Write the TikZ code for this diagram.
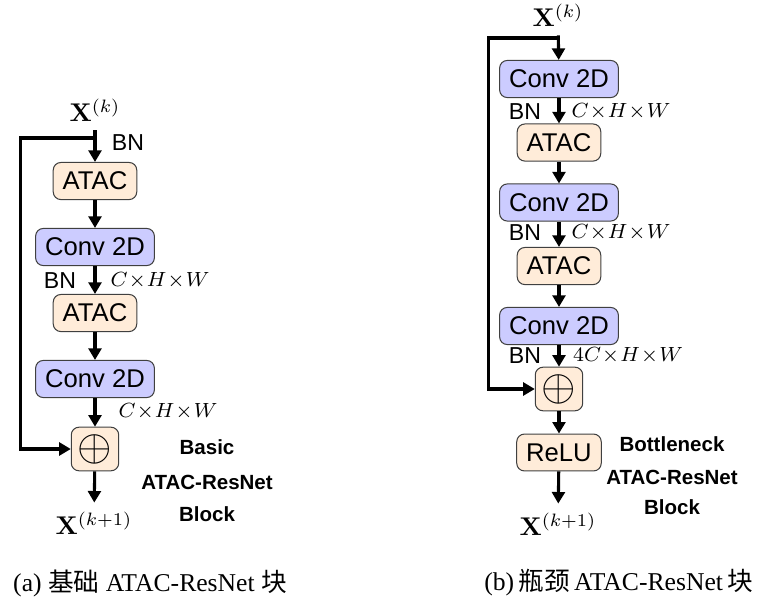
\documentclass[tikz,border=0pt]{standalone}
\usepackage[no-math]{fontspec}
\setmainfont{Liberation Serif}
\setsansfont{Liberation Sans}
\newfontfamily\cjk{Noto Sans CJK SC}
\usepackage{xcolor}
\usetikzlibrary{arrows.meta, positioning, calc}

\begin{document}
\begin{tikzpicture}[x=0.39pt, y=-0.39pt]
    % Define styles
    \tikzstyle{atacbox} = [rectangle, rounded corners=3pt, draw=black!75, fill=orange!15, inner sep=3.7pt, font=\sffamily]
    \tikzstyle{convbox} = [rectangle, rounded corners=3pt, draw=black!75, fill=blue!20, inner sep=3.7pt, font=\sffamily]
    \tikzstyle{addbox} = [rectangle, rounded corners=3pt, draw=black!75, fill=orange!15, inner sep=0pt, minimum width=18.5pt, minimum height=17pt, font=\LARGE]
    \tikzstyle{dimlabel} = [font=\footnotesize, inner sep=1pt]
    \tikzstyle{bnlabel} = [font=\sffamily\small, inner sep=1pt]
    \tikzstyle{blocklabel} = [font=\sffamily\bfseries\footnotesize, inner sep=1pt]
    \tikzstyle{flow} = [line width=1.2pt, -{Triangle[length=4.5pt, width=5pt]}]

    \useasboundingbox (0,0) rectangle (757,599);

    % (a) Basic block
    \node (lin) at (95,110) {$\mathbf{X}^{(k)}$};
    \node[atacbox] (latac1) at (95,181) {ATAC};
    \node[convbox] (lconv1) at (95,247) {Conv 2D};
    \node[atacbox] (latac2) at (95,313) {ATAC};
    \node[convbox] (lconv2) at (95,379) {Conv 2D};
    \node[addbox] (ladd) at (95,449) {$\oplus$};
    \node (lout) at (94,523) {$\mathbf{X}^{(k+1)}$};

    \node[bnlabel] (lbn1) at (128,143) {BN};
    \node[bnlabel] (lbn2) at (60,281) {BN};
    \node[dimlabel] (ldim1) at (160,281) {$C\!\times\! H\!\times\! W$};
    \node[dimlabel] (ldim2) at (168,412) {$C\!\times\! H\!\times\! W$};

    \node[blocklabel] (lname1) at (207,447) {Basic};
    \node[blocklabel] (lname2) at (207,482) {ATAC-ResNet};
    \node[blocklabel] (lname3) at (207,514) {Block};

    \coordinate (lsplit) at (95,138);
    \coordinate (lbend1) at (20.7,138);
    \coordinate (lbend2) at (20.7,449);

    \draw[flow] (lin) -- (latac1);
    \draw[flow] (latac1) -- (lconv1);
    \draw[flow] (lconv1) -- (latac2);
    \draw[flow] (latac2) -- (lconv2);
    \draw[flow] (lconv2) -- (ladd);
    \draw[flow] (ladd) -- (lout);
    \draw[flow] (lsplit) -- (lbend1) -- (lbend2) -- (ladd);

    % (b) Bottleneck block
    \node (rin) at (558,15) {$\mathbf{X}^{(k)}$};
    \node[convbox] (rconv1) at (559,79) {Conv 2D};
    \node[atacbox] (ratac1) at (559,142.5) {ATAC};
    \node[convbox] (rconv2) at (559,202.5) {Conv 2D};
    \node[atacbox] (ratac2) at (559,266) {ATAC};
    \node[convbox] (rconv3) at (559,326) {Conv 2D};
    \node[addbox] (radd) at (559,389) {$\oplus$};
    \node[atacbox] (rrelu) at (559,452.5) {ReLU};
    \node (rout) at (558,524) {$\mathbf{X}^{(k+1)}$};

    \node[bnlabel] (rbn1) at (525,112) {BN};
    \node[bnlabel] (rbn2) at (525,233) {BN};
    \node[bnlabel] (rbn3) at (525,356) {BN};
    \node[dimlabel] (rdim1) at (621,112) {$C\!\times\! H\!\times\! W$};
    \node[dimlabel] (rdim2) at (621,233) {$C\!\times\! H\!\times\! W$};
    \node[dimlabel] (rdim3) at (628,356) {$4C\!\times\! H\!\times\! W$};

    \node[blocklabel] (rname1) at (672,444) {Bottleneck};
    \node[blocklabel] (rname2) at (672,477) {ATAC-ResNet};
    \node[blocklabel] (rname3) at (672,507) {Block};

    \coordinate (rsplit) at (559,38);
    \coordinate (rbend1) at (488.3,38);
    \coordinate (rbend2) at (488.3,389);

    \draw[flow] (rin) -- (rconv1);
    \draw[flow] (rconv1) -- (ratac1);
    \draw[flow] (ratac1) -- (rconv2);
    \draw[flow] (rconv2) -- (ratac2);
    \draw[flow] (ratac2) -- (rconv3);
    \draw[flow] (rconv3) -- (radd);
    \draw[flow] (radd) -- (rrelu);
    \draw[flow] (rrelu) -- (rout);
    \draw[flow] (rsplit) -- (rbend1) -- (rbend2) -- (radd);

    % Captions
    \node (capa) at (150,583) {(a) {\cjk 基础} ATAC-ResNet {\cjk 块}};
    \node[anchor=east, inner sep=1pt] (capb) at (756,583) {(b)\,{\cjk 瓶颈}\,ATAC-ResNet\,{\cjk 块}};
\end{tikzpicture}
\end{document}
